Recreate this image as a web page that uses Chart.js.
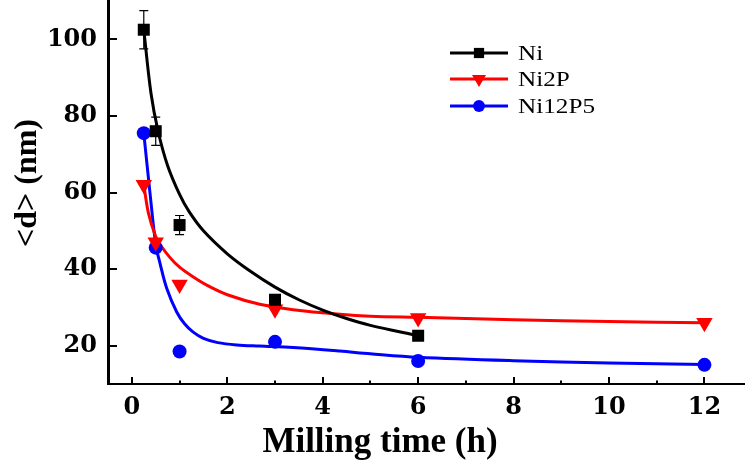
<!DOCTYPE html>
<html><head><meta charset="utf-8">
<script src="https://cdn.jsdelivr.net/npm/chart.js@4.4.0/dist/chart.umd.min.js"></script>
<style>html,body{margin:0;padding:0;background:#fff;}#wrap{width:745px;height:470px;}</style>
</head><body><div id="wrap"><canvas id="c" width="745" height="470"></canvas></div>
<script>
// measured data points
const millingTime = [0.25, 0.5, 1, 3, 6, 12];
const niTime = [0.25, 0.5, 1, 3, 6];
const niSize = [102.5, 76, 51.5, 32, 22.6];
const niError = [5, 3.7, 2.5, 1, 0.8];
const ni2pSize = [62, 47, 36, 29.5, 27.2, 26];
const ni12p5Size = [75.5, 45.6, 18.5, 21, 16, 15];
// fitted curves
const niFitX = [0.25, 0.4, 0.55, 0.75, 1.0, 1.2, 1.5, 2.0, 2.5, 3.0, 3.5, 4.0, 4.5, 5.0, 6.0];
const niFitY = [102.5, 86, 76, 67, 59.5, 55, 50, 44, 39.3, 35.3, 32.0, 29.3, 27.1, 25.3, 22.6];
const ni2pFitX = [0.25, 0.35, 0.5, 0.6, 0.8, 1.0, 1.28, 1.6, 2.0, 2.68, 3.38, 4.36, 5.0, 6.0, 8.0, 10.0, 12.0];
const ni2pFitY = [62, 54.5, 48.5, 46.3, 43, 40.5, 38, 35.6, 33.3, 30.8, 29.4, 28.2, 27.7, 27.4, 26.8, 26.3, 26.0];
const ni12p5FitX = [0.25, 0.375, 0.5, 0.6, 0.73, 0.94, 1.1, 1.28, 1.5, 1.8, 2.2, 2.68, 3.38, 4.36, 5.0, 6.0, 8.0, 10.0, 12.0];
const ni12p5FitY = [75.5, 60.5, 46.5, 41, 35, 28.8, 25.8, 23.6, 21.9, 20.8, 20.2, 19.9, 19.5, 18.6, 17.9, 17.0, 16.1, 15.5, 15.1];
// ticks
const xTicks = [0,1,2,3,4,5,6,7,8,9,10,11,12];
const xLabelTicks = [0,2,4,6,8,10,12];
const yTicks = [20,40,60,80,100];
const seriesNames = ['Ni', 'Ni2P', 'Ni12P5'];

const pts = (xs, ys) => xs.map((x, i) => ({x: x, y: ys[i]}));

const niMarks = {label: seriesNames[0], data: pts(niTime, niSize), showLine: false,
  pointStyle: 'rect', pointRadius: 8.5, pointBackgroundColor: '#000', pointBorderWidth: 0, borderColor: '#000'};
const ni2pMarks = {label: seriesNames[1], data: pts(millingTime, ni2pSize), showLine: false,
  pointStyle: 'triangle', rotation: 180, pointRotation: 180, pointRadius: 9.5, pointBackgroundColor: '#ff0000', pointBorderWidth: 0, borderColor: '#ff0000'};
const ni12p5Marks = {label: seriesNames[2], data: pts(millingTime, ni12p5Size), showLine: false,
  pointStyle: 'circle', pointRadius: 7, pointBackgroundColor: '#0000ff', pointBorderWidth: 0, borderColor: '#0000ff'};
const curve = (xs, ys, color) => ({label: '', data: pts(xs, ys), showLine: true, pointRadius: 0,
  borderColor: color, borderWidth: 3, tension: 0.35, fill: false});

const errorPlugin = {
  id: 'errorBars',
  beforeDatasetsDraw(chart) {
    const ctx = chart.ctx, xs = chart.scales.x, ys = chart.scales.y;
    ctx.save(); ctx.strokeStyle = '#000'; ctx.lineWidth = 1.2;
    niTime.forEach((t, i) => {
      const px = xs.getPixelForValue(t);
      const top = ys.getPixelForValue(niSize[i] + niError[i]);
      const bot = ys.getPixelForValue(niSize[i] - niError[i]);
      ctx.beginPath();
      ctx.moveTo(px, top); ctx.lineTo(px, bot);
      ctx.moveTo(px - 4.5, top); ctx.lineTo(px + 4.5, top);
      ctx.moveTo(px - 4.5, bot); ctx.lineTo(px + 4.5, bot);
      ctx.stroke();
    });
    ctx.restore();
  }
};

const decorPlugin = {
  id: 'decor',
  afterDraw(chart) {
    const ctx = chart.ctx, a = chart.chartArea, xs = chart.scales.x, ys = chart.scales.y;
    ctx.save();
    ctx.strokeStyle = '#000'; ctx.lineWidth = 2;
    xTicks.forEach(v => {
      const px = Math.round(xs.getPixelForValue(v));
      const len = (v % 2 === 0) ? 7 : 3.5;
      ctx.beginPath(); ctx.moveTo(px, a.bottom); ctx.lineTo(px, a.bottom - len); ctx.stroke();
    });
    yTicks.forEach(v => {
      const py = Math.round(ys.getPixelForValue(v));
      ctx.beginPath(); ctx.moveTo(a.left, py); ctx.lineTo(a.left + 9, py); ctx.stroke();
    });
    // axis titles
    ctx.fillStyle = '#000';
    ctx.font = 'bold 35px "Liberation Serif"';
    ctx.textAlign = 'center'; ctx.textBaseline = 'alphabetic';
    ctx.fillText('Milling time (h)', 380, 452);
    ctx.save();
    ctx.translate(28, 183); ctx.rotate(-Math.PI / 2);
    ctx.font = 'bold 32px "Liberation Serif"';
    ctx.textBaseline = 'middle';
    ctx.fillText('<d> (nm)', 0, 0);
    ctx.restore();
    // legend
    const rows = [53, 79, 106];
    const sets = [niMarks, ni2pMarks, ni12p5Marks];
    sets.forEach((ds, i) => {
      const y = rows[i];
      ctx.strokeStyle = ds.borderColor; ctx.lineWidth = 3;
      ctx.beginPath(); ctx.moveTo(450, y); ctx.lineTo(508, y); ctx.stroke();
      ctx.fillStyle = ds.pointBackgroundColor;
      Chart.helpers.drawPoint(ctx, {pointStyle: ds.pointStyle, rotation: ds.pointRotation || 0,
        radius: ds.pointRadius * 0.85, borderWidth: 0}, 479, y);
      ctx.save();
      ctx.translate(518, y + 7); ctx.scale(1.2, 1);
      ctx.fillStyle = '#000';
      ctx.font = '21px "Liberation Serif"';
      ctx.textAlign = 'left'; ctx.textBaseline = 'alphabetic';
      ctx.fillText(ds.label, 0, 0);
      ctx.restore();
    });
    ctx.restore();
  }
};

new Chart(document.getElementById('c'), {
  type: 'scatter',
  data: {datasets: [niMarks, ni2pMarks, ni12p5Marks,
    curve(niFitX, niFitY, '#000'), curve(ni2pFitX, ni2pFitY, '#ff0000'), curve(ni12p5FitX, ni12p5FitY, '#0000ff')]},
  options: {
    responsive: false, animation: false, devicePixelRatio: 1,
    layout: {autoPadding: false, padding: {top: 1, left: 0, right: 0, bottom: 0}},
    plugins: {legend: {display: false}, tooltip: {enabled: false}, title: {display: false}},
    elements: {line: {borderWidth: 3}},
    scales: {
      x: {
        type: 'linear', min: -0.5, max: 12.85,
        grid: {display: false, drawTicks: false},
        border: {display: true, color: '#000', width: 2},
        afterBuildTicks: s => { s.ticks = xTicks.map(v => ({value: v})); },
        afterFit: s => { s.height = 86; s.paddingLeft = 0; s.paddingRight = 0; },
        ticks: {autoSkip: false, maxRotation: 0, padding: 9, color: '#000',
          font: {family: '"DejaVu Serif"', weight: 'bold', size: 24},
          callback: v => xLabelTicks.includes(v) ? String(v) : ''}
      },
      y: {
        type: 'linear', min: 10, max: 110,
        grid: {display: false, drawTicks: false},
        border: {display: true, color: '#000', width: 3},
        afterBuildTicks: s => { s.ticks = yTicks.map(v => ({value: v})); },
        afterFit: s => { s.width = 108; s.paddingTop = 0; s.paddingBottom = 0; },
        ticks: {padding: 11, color: '#000',
          font: {family: '"DejaVu Serif"', weight: 'bold', size: 24},
          callback: v => String(v)}
      }
    }
  },
  plugins: [errorPlugin, decorPlugin]
});
</script></body></html>
